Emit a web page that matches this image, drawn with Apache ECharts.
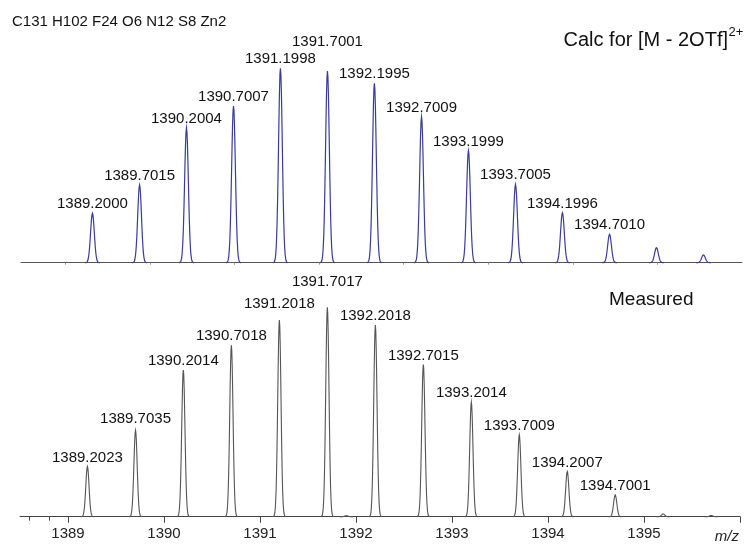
<!DOCTYPE html>
<html><head><meta charset="utf-8">
<script src="https://cdn.jsdelivr.net/npm/echarts@6/dist/echarts.min.js"></script>
<style>html,body{margin:0;padding:0;background:#fff}#c{width:745px;height:545px}</style>
</head><body><div id="c"></div>
<script>
// Calculated isotope pattern (m/z, relative intensity %)
const calcMz  = [1389.2000, 1389.7015, 1390.2004, 1390.7007, 1391.1998, 1391.7001, 1392.1995, 1392.7009, 1393.1999, 1393.7005, 1394.1996, 1394.7010, 1395.2000, 1395.7000];
const calcInt = [25.4, 40.0, 69.4, 80.6, 100, 98.6, 92.3, 75.1, 57.6, 40.3, 25.7, 14.6, 7.7, 4.0];
const calcLabels = ['1389.2000','1389.7015','1390.2004','1390.7007','1391.1998','1391.7001','1392.1995','1392.7009','1393.1999','1393.7005','1394.1996','1394.7010','',''];

// Measured spectrum
const measMz  = [1389.2023, 1389.7035, 1390.2014, 1390.7018, 1391.2018, 1391.7017, 1391.9000, 1392.2018, 1392.7015, 1393.2014, 1393.7009, 1394.2007, 1394.7001, 1395.2000, 1395.7000];
const measInt = [24.0, 41.2, 70.0, 81.9, 93.9, 100, 0.5, 91.5, 72.7, 54.8, 39.1, 21.6, 10.4, 1.3, 0.6];
const measLabels = ['1389.2023','1389.7035','1390.2014','1390.7018','1391.2018','1391.7017','','1392.2018','1392.7015','1393.2014','1393.7009','1394.2007','1394.7001','',''];

// Axis ticks / labels
const topTickValues = [1388.91, 1389.81, 1390.71, 1391.61, 1392.51, 1393.41, 1394.31, 1395.21];
const bottomTickValues = [1389, 1390, 1391, 1392, 1393, 1394, 1395, 1396];
const bottomLabelValues = [1389, 1390, 1391, 1392, 1393, 1394, 1395];
const bottomMinorTicks = [1388.6, 1388.8];

const FONT = '"Liberation Sans", Arial, sans-serif';

function peakRenderer(labels, color, sigma, lineWidth, lift) {
  return function (params, api) {
    const c = api.value(0), h = api.value(1);
    const pts = [];
    for (let i = -16; i <= 16; i++) {
      const t = i / 4;
      pts.push(api.coord([c + t * sigma, h * Math.exp(-t * t / 2)]));
    }
    const top = api.coord([c, h]);
    const children = [{
      type: 'polyline', shape: { points: pts },
      style: { stroke: color, lineWidth: lineWidth, fill: null }
    }];
    const lbl = labels[params.dataIndex];
    if (lbl) {
      children.push({
        type: 'text', x: top[0], y: top[1] - 9 - (lift[params.dataIndex] || 0),
        style: { text: lbl, align: 'center', verticalAlign: 'middle', font: '15px ' + FONT, fill: '#111' }
      });
    }
    return { type: 'group', children: children };
  };
}

const calcData = calcMz.map((m, i) => [m, calcInt[i]]);
const measData = measMz.map((m, i) => [m, measInt[i]]);

const chart = echarts.init(document.getElementById('c'), null, { renderer: 'canvas' });
chart.setOption({
  animation: false,
  backgroundColor: '#fff',
  grid: [
    { left: 21, right: 3, top: 68.3, bottom: 282.3 },
    { left: 20, right: 5, top: 307.3, bottom: 28.3 }
  ],
  xAxis: [
    {
      type: 'value', gridIndex: 0, min: 1388.44, max: 1396.11, position: 'bottom',
      axisLine: { lineStyle: { color: '#555', width: 1 } },
      axisTick: { show: true, customValues: topTickValues, length: 2, lineStyle: { color: '#999' } },
      axisLabel: { show: false }, splitLine: { show: false }
    },
    {
      type: 'value', gridIndex: 1, min: 1388.5, max: 1396, position: 'bottom',
      axisLine: { lineStyle: { color: '#444', width: 1 } },
      axisTick: { show: true, customValues: bottomTickValues, length: 6, lineStyle: { color: '#444' } },
      axisLabel: { customValues: bottomLabelValues, fontSize: 15, color: '#222', margin: 10, fontFamily: 'Liberation Sans', formatter: v => String(v) },
      splitLine: { show: false }
    },
    {
      type: 'value', gridIndex: 1, min: 1388.5, max: 1396, position: 'bottom', offset: 0,
      axisLine: { show: false },
      axisTick: { show: true, customValues: bottomMinorTicks, length: 4, lineStyle: { color: '#444' } },
      axisLabel: { show: false }, splitLine: { show: false }
    }
  ],
  yAxis: [
    { type: 'value', gridIndex: 0, min: 0, max: 100, show: false },
    { type: 'value', gridIndex: 1, min: 0, max: 100, show: false }
  ],
  series: [
    {
      type: 'custom', xAxisIndex: 0, yAxisIndex: 0, data: calcData, clip: false,
      renderItem: peakRenderer(calcLabels, '#3a3c9c', 0.02, 1.2, { 5: 20 })
    },
    {
      type: 'custom', xAxisIndex: 1, yAxisIndex: 1, data: measData, clip: false,
      renderItem: peakRenderer(measLabels, '#555', 0.017, 1.1, { 1: 3, 4: 7, 5: 16 })
    }
  ],
  graphic: [
    { type: 'text', x: 12, y: 22, style: { text: 'C131 H102 F24 O6 N12 S8 Zn2', font: '15px ' + FONT, fill: '#111', verticalAlign: 'middle' } },
    { type: 'text', x: 728, y: 40, style: { text: 'Calc for [M - 2OTf]', font: '20px ' + FONT, fill: '#111', align: 'right', verticalAlign: 'middle' } },
    { type: 'text', x: 728.5, y: 32, style: { text: '2+', font: '13px ' + FONT, fill: '#111', align: 'left', verticalAlign: 'middle' } },
    { type: 'text', x: 609, y: 300, style: { text: 'Measured', font: '19px ' + FONT, fill: '#111', verticalAlign: 'middle' } },
    { type: 'text', x: 739, y: 537, style: { text: 'm/z', font: 'italic 15px ' + FONT, fill: '#222', align: 'right', verticalAlign: 'middle' } }
  ]
});
</script>
</body></html>
